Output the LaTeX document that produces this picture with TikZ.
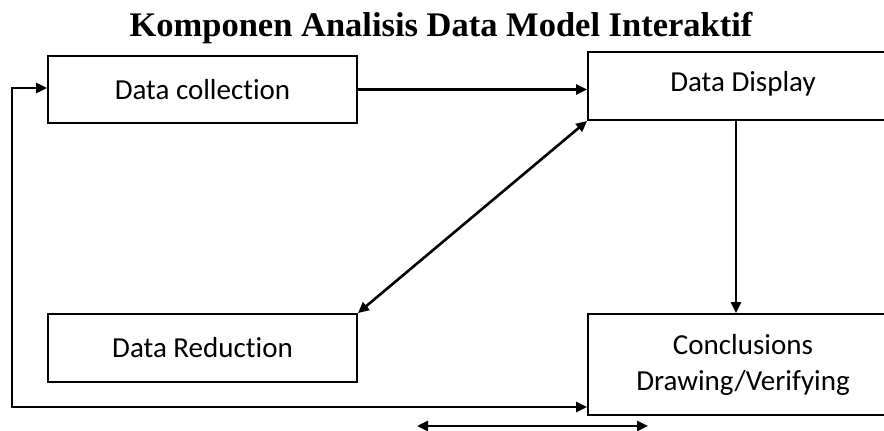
\documentclass[tikz,border=0pt]{standalone}
\usepackage{fontspec}
\setmainfont{Liberation Serif}
\newfontfamily\carlito[Ligatures=NoCommon]{Carlito}
\usetikzlibrary{arrows.meta}
\tikzset{
  box/.style={draw, line width=1.8pt, inner sep=0pt, align=center, font=\carlito\fontsize{29}{36}\selectfont},
  conn/.style={line width=2.6pt, -{Triangle[length=11pt,width=10pt]}},
  dconn/.style={line width=2.6pt, {Triangle[length=11pt,width=10pt]}-{Triangle[length=11pt,width=10pt]}},
}
\begin{document}
\begin{tikzpicture}[x=1pt,y=-1pt]
\useasboundingbox (0,0) rectangle (884,431);
\clip (0,0) rectangle (884,431);
\node[font=\bfseries\fontsize{34.5}{40}\selectfont] (title) at (441,28) {Komponen Analisis Data Model Interaktif};
\node[box, minimum width=309pt, minimum height=67pt] (dc) at (202.5,89.5) {Data collection};
\node[box, minimum width=310pt, minimum height=68pt, text depth=10pt] (dd) at (743,86) {Data Display};
\node[box, minimum width=309pt, minimum height=68pt] (dr) at (202.5,348) {Data Reduction};
\node[box, minimum width=310pt, minimum height=101pt] (cd) at (743,364.5) {Conclusions\\Drawing/Verifying};
\coordinate (lx) at (12,88);
\coordinate (ly) at (12,407);
\coordinate (ba) at (417,426);
\coordinate (bb) at (648,426);
\draw[conn] (dc.east) -- (dc.east -| dd.west);
\draw[conn] ([xshift=-7pt]dd.south) -- ([xshift=-7pt]cd.north);
\draw[dconn] (dd.south west) -- (dr.north east);
\draw[dconn] (lx -| dc.west) -- (lx) -- (ly) -- (ly -| cd.west);
\draw[dconn] (ba) -- (bb);
\end{tikzpicture}
\end{document}
